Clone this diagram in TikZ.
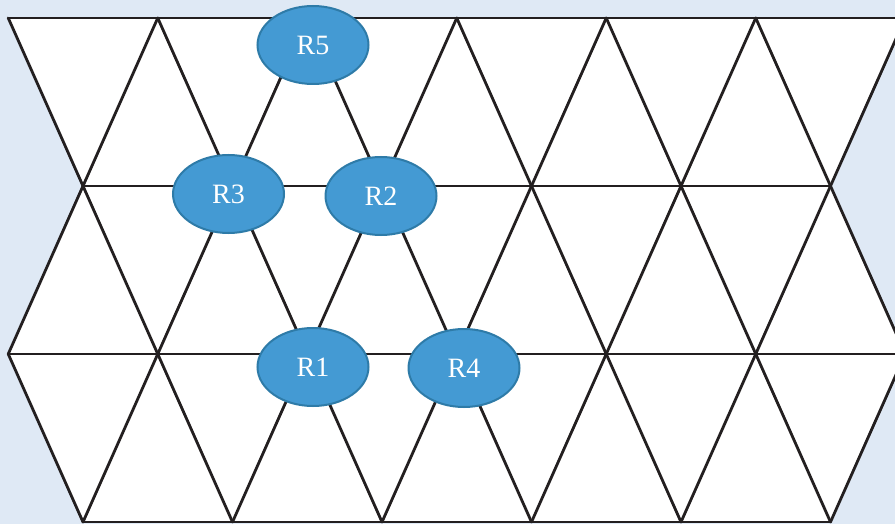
\documentclass[tikz,border=0pt]{standalone}
\usepackage{fontspec}
\setmainfont{Liberation Serif}
\definecolor{bgblue}{HTML}{DFE9F5}
\definecolor{gridline}{HTML}{231F20}
\definecolor{nodefill}{HTML}{449AD3}
\definecolor{nodeedge}{HTML}{2E7BA8}
\tikzset{
  gridseg/.style={draw=gridline, line width=2.8pt, line cap=round, line join=round},
  router/.style={ellipse, draw=nodeedge, fill=nodefill, line width=2pt,
    minimum width=111pt, minimum height=78pt, inner sep=0pt,
    text=white, font=\fontsize{28}{32}\selectfont},
}
\usetikzlibrary{shapes.geometric}
\begin{document}
\begin{tikzpicture}[x=1pt,y=-1pt]
\fill[bgblue] (0,0) rectangle (895,524);
\useasboundingbox (0,0) rectangle (895,524);
\begin{scope}
\clip (0,0) rectangle (895,524);
\fill[white] (8.25,18) -- (905.25,18) -- (830.5,186) -- (905.25,354) -- (830.5,522)
  -- (83,522) -- (8.25,354) -- (83,186) -- cycle;
% horizontal lines
\draw[gridseg] (8.25,18) -- (905.25,18);
\draw[gridseg] (83,186) -- (830.5,186);
\draw[gridseg] (8.25,354) -- (905.25,354);
\draw[gridseg] (83,522) -- (830.5,522);
% diagonals
\foreach \k in {0,...,5}{
  \pgfmathsetmacro{\xa}{8.25+149.5*\k}
  \pgfmathsetmacro{\xb}{83+149.5*\k}
  \pgfmathsetmacro{\xc}{157.75+149.5*\k}
  \draw[gridseg] (\xa,18) -- (\xb,186);
  \draw[gridseg] (\xb,186) -- (\xc,354);
  \draw[gridseg] (\xa,354) -- (\xb,522);
  \draw[gridseg] (\xc,18) -- (\xb,186);
  \draw[gridseg] (\xb,186) -- (\xa,354);
  \draw[gridseg] (\xc,354) -- (\xb,522);
}
\end{scope}
\node[router] (r5) at (313,45) {R5};
\node[router] (r3) at (228.5,194) {R3};
\node[router] (r2) at (381,196) {R2};
\node[router] (r1) at (313,367) {R1};
\node[router] (r4) at (464,368) {R4};
\end{tikzpicture}
\end{document}
